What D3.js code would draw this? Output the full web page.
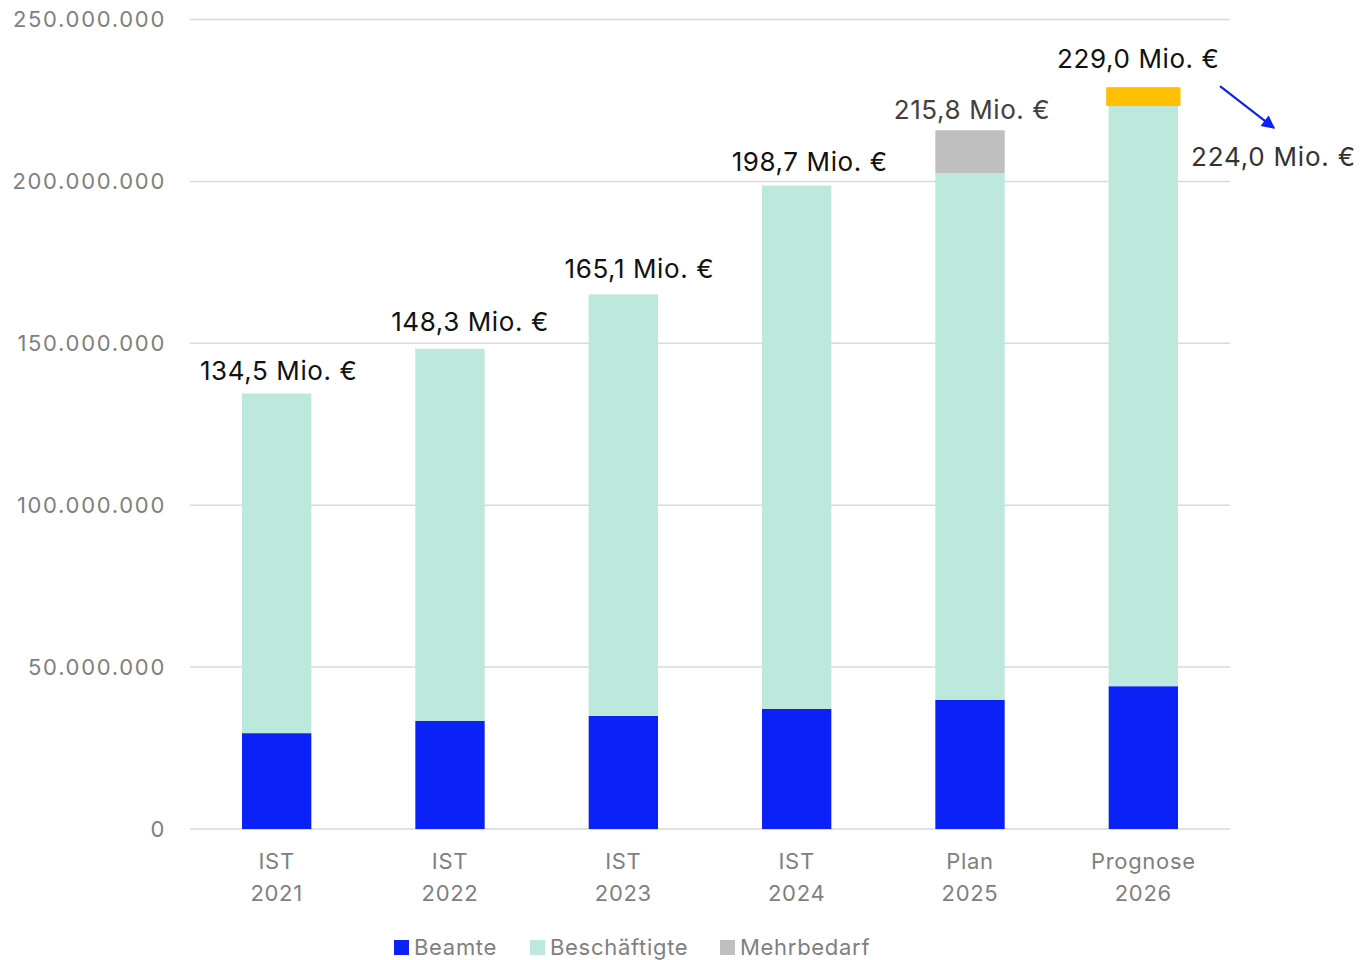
<!DOCTYPE html>
<html>
<head>
<meta charset="utf-8">
<script src="https://cdn.jsdelivr.net/npm/d3@7"></script>
<style>
  body { margin: 0; background: #fff; }
  svg { font-family: Inter, "Noto Sans", sans-serif; }
</style>
</head>
<body>
<svg id="chart" width="1365" height="960"></svg>
<script>
// values in millions of euro
const categories = ['IST 2021', 'IST 2022', 'IST 2023', 'IST 2024', 'Plan 2025', 'Prognose 2026']
const beamte = [29.6, 33.4, 34.9, 37.1, 39.9, 44.1]
const beschaeftigte = [104.9, 114.9, 130.2, 161.6, 162.6, 179.2]
const mehrbedarf = [0, 0, 0, 0, 13.3, 0]
const prognoseAufschlag = [0, 0, 0, 0, 0, 5.8]
const totalLabels = [134.5, 148.3, 165.1, 198.7, 215.8, 229.0]
const ohneAufschlagLabel = 224.0
const yTicks = [0, 50, 100, 150, 200, 250]
const legendItems = ['Beamte', 'Beschäftigte', 'Mehrbedarf']

// label nudges (px), like the hand-placed labels of the original
const labelDx = [2, 20, 16, 13, 2, -5]
const labelDy = [-13, -18, -16, -15, -11, -19]

const colors = { beamte: '#0a22f5', besch: '#bde8dc', mehr: '#bfbfbf', gelb: '#ffc000' }

const svg = d3.select('#chart')
const margin = { left: 190, right: 135, top: 19.5, bottom: 131 }
const width = 1365, height = 960

const x = d3.scaleBand()
  .domain(categories)
  .range([margin.left, width - margin.right])
  .paddingInner(0.6)
  .paddingOuter(0.3)

const y = d3.scaleLinear()
  .domain([0, 250])
  .range([height - margin.bottom, margin.top])

// gridlines
svg.append('g')
  .selectAll('line')
  .data(yTicks)
  .join('line')
  .attr('x1', margin.left)
  .attr('x2', width - margin.right)
  .attr('y1', d => y(d))
  .attr('y2', d => y(d))
  .attr('stroke', '#d9d9d9')
  .attr('stroke-width', 1.5)

const fmtAxis = d => d === 0 ? '0' : d3.format(',')(d * 1e6).replace(/,/g, '.')

svg.append('g')
  .selectAll('text')
  .data(yTicks)
  .join('text')
  .attr('x', 166)
  .attr('y', d => y(d))
  .attr('dy', '0.35em')
  .attr('text-anchor', 'end')
  .attr('fill', '#7f7f7f')
  .attr('font-size', 22)
  .attr('letter-spacing', 1.7)
  .text(fmtAxis)

// stacked segments
const rows = categories.map((c, i) => ({
  cat: c,
  segs: [
    { key: 'beamte', y0: 0, y1: beamte[i] },
    { key: 'besch', y0: beamte[i], y1: beamte[i] + beschaeftigte[i] },
    { key: 'mehr', y0: beamte[i] + beschaeftigte[i], y1: beamte[i] + beschaeftigte[i] + mehrbedarf[i] },
    { key: 'gelb', y0: beamte[i] + beschaeftigte[i], y1: beamte[i] + beschaeftigte[i] + prognoseAufschlag[i] }
  ]
}))

rows.forEach(r => {
  svg.append('g')
    .selectAll('rect')
    .data(r.segs.filter(s => s.y1 > s.y0))
    .join('rect')
    .attr('x', s => x(r.cat) - (s.key === 'gelb' ? 2.5 : 0))
    .attr('width', s => x.bandwidth() + (s.key === 'gelb' ? 5 : 0))
    .attr('y', s => y(s.y1))
    .attr('height', s => y(s.y0) - y(s.y1))
    .attr('fill', s => colors[s.key])
})

// value labels
const fmtMio = v => d3.format('.1f')(v).replace('.', ',') + ' Mio. €'
const tops = categories.map((c, i) => beamte[i] + beschaeftigte[i] + mehrbedarf[i] + prognoseAufschlag[i])

svg.append('g')
  .selectAll('text')
  .data(categories)
  .join('text')
  .attr('x', (c, i) => x(c) + x.bandwidth() / 2 + labelDx[i])
  .attr('y', (c, i) => y(tops[i]) + labelDy[i])
  .attr('text-anchor', 'middle')
  .attr('font-size', 26)
  .attr('letter-spacing', 0.6)
  .attr('fill', (c, i) => i === 4 ? '#404040' : '#111')
  .text((c, i) => fmtMio(totalLabels[i]))

// 2026 ohne Aufschlag
const last = categories[5]
const base2026 = beamte[5] + beschaeftigte[5]
svg.append('text')
  .attr('x', x(last) + x.bandwidth() + 13)
  .attr('y', y(base2026) + 60)
  .attr('font-size', 26)
  .attr('letter-spacing', 0.8)
  .attr('fill', '#333')
  .text(fmtMio(ohneAufschlagLabel))

svg.append('defs').append('marker')
  .attr('id', 'arrow')
  .attr('viewBox', '0 0 10 10')
  .attr('refX', 9).attr('refY', 5)
  .attr('markerWidth', 7).attr('markerHeight', 6)
  .attr('orient', 'auto')
  .append('path')
  .attr('d', 'M0,0 L10,5 L0,10 z')
  .attr('fill', colors.beamte)

svg.append('line')
  .attr('x1', x(last) + x.bandwidth() + 42)
  .attr('y1', y(tops[5]) - 1)
  .attr('x2', x(last) + x.bandwidth() + 96)
  .attr('y2', y(base2026) + 22)
  .attr('stroke', colors.beamte)
  .attr('stroke-width', 2.2)
  .attr('marker-end', 'url(#arrow)')

// x labels
const xl = svg.append('g')
categories.forEach(c => {
  const parts = c.split(' ')
  xl.append('text')
    .attr('x', x(c) + x.bandwidth() / 2)
    .attr('y', 869)
    .attr('text-anchor', 'middle')
    .attr('font-size', 22)
    .attr('letter-spacing', 0.7)
    .attr('fill', '#7f7f7f')
    .selectAll('tspan')
    .data(parts)
    .join('tspan')
    .attr('x', x(c) + x.bandwidth() / 2)
    .attr('dy', (d, i) => i === 0 ? 0 : 32)
    .text(d => d)
})

// legend
const legendX = [394, 530, 720]
const legendColors = [colors.beamte, colors.besch, colors.mehr]
const lg = svg.append('g')
legendItems.forEach((name, i) => {
  lg.append('rect')
    .attr('x', legendX[i]).attr('y', 940)
    .attr('width', 15).attr('height', 15)
    .attr('fill', legendColors[i])
  lg.append('text')
    .attr('x', legendX[i] + 20).attr('y', 955)
    .attr('font-size', 22)
    .attr('letter-spacing', 0.7)
    .attr('fill', '#7f7f7f')
    .text(name)
})
</script>
</body>
</html>
